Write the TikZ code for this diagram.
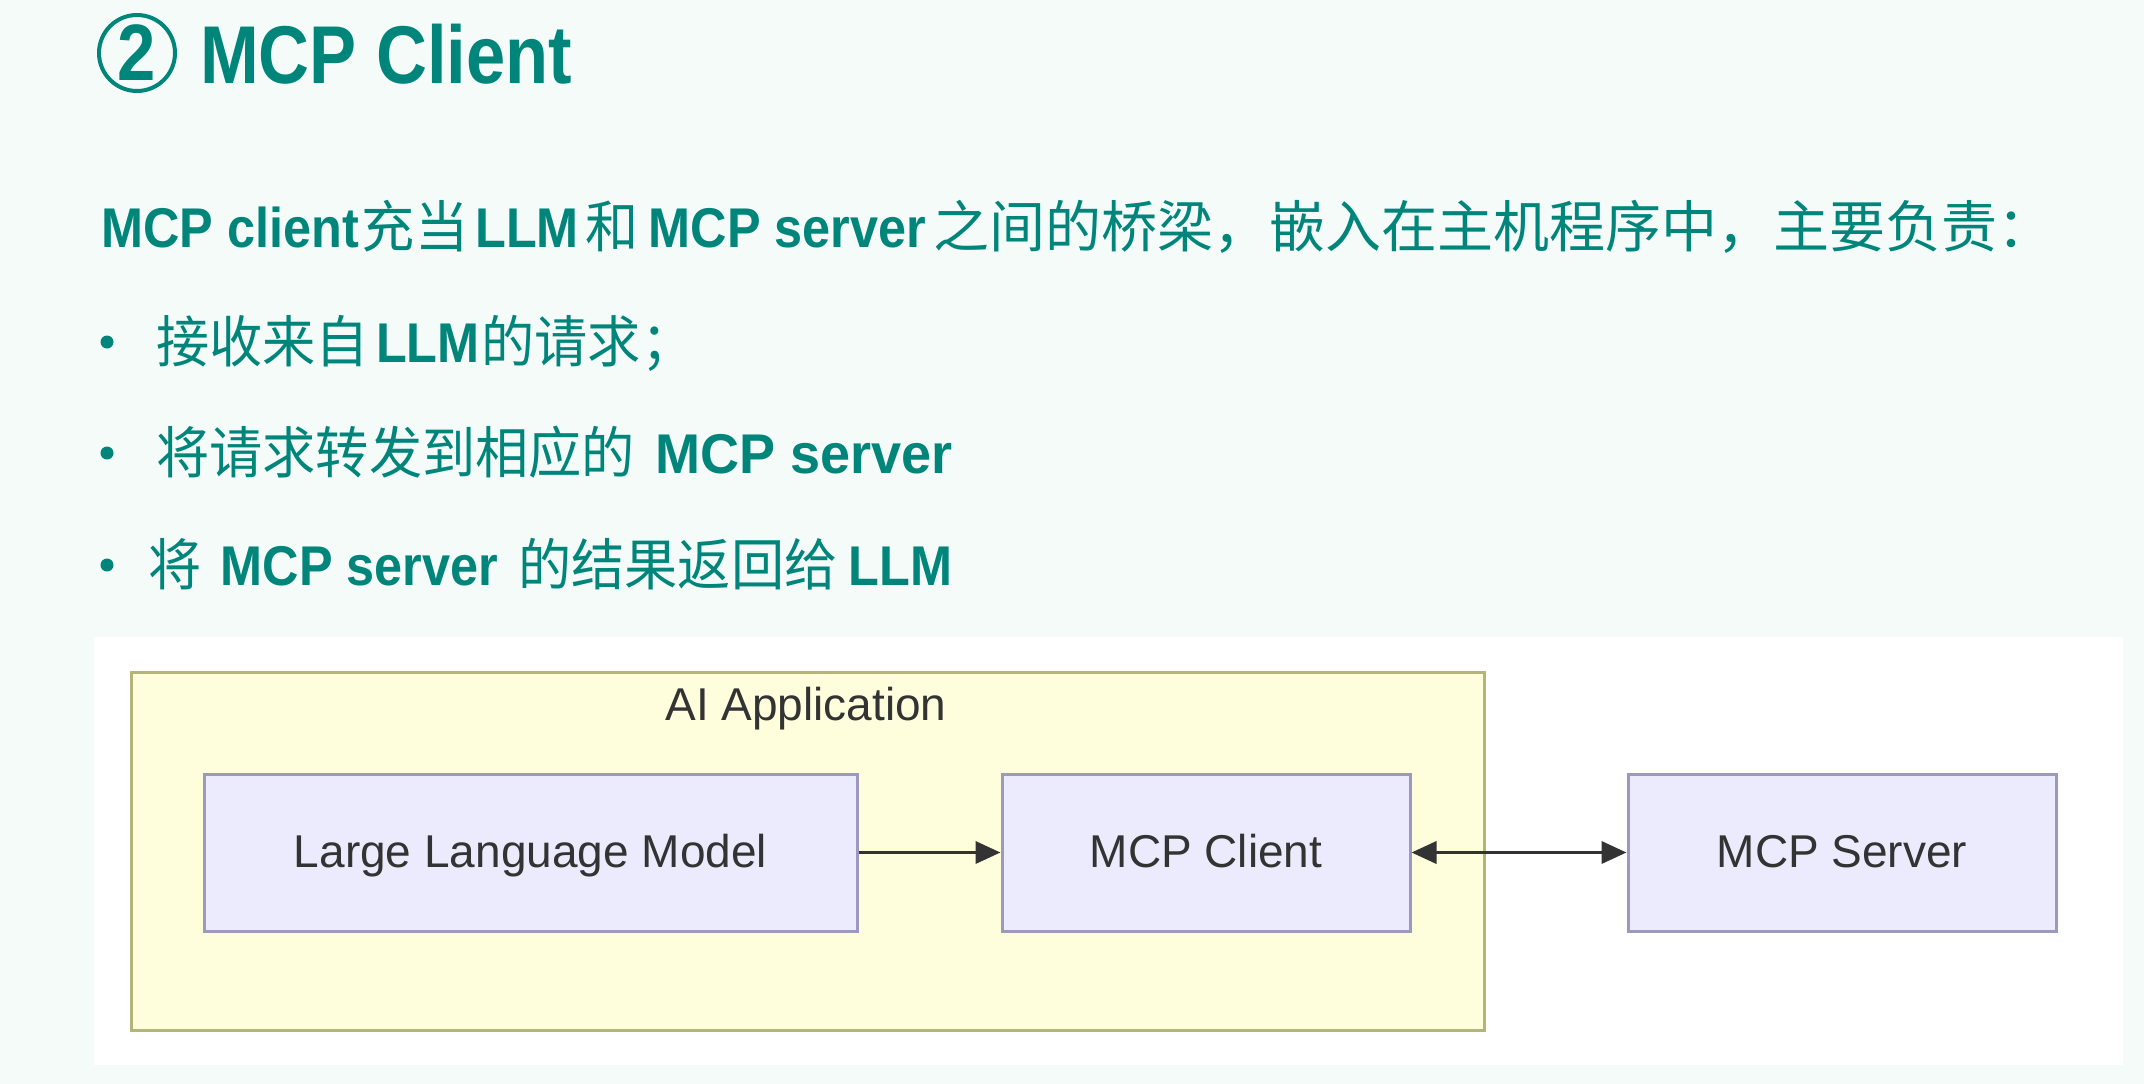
\documentclass[tikz,border=0pt]{standalone}
\usepackage{fontspec}
\usetikzlibrary{arrows.meta}
\setmainfont{Liberation Sans}
\newfontfamily\latinfont{Liberation Sans}[FakeStretch=0.9]
\newfontfamily\latinwide{Liberation Sans}[FakeStretch=0.965]
\newfontfamily\headfont{Liberation Sans}[FakeStretch=0.86]
\newfontfamily\zhfont{Noto Sans CJK SC}
\newfontfamily\zhnarrow{Noto Sans CJK SC}[FakeStretch=0.95]
% Latin and Chinese runs
\newcommand\en[1]{{\latinfont\bfseries #1}}
\newcommand\enw[1]{{\latinwide\bfseries #1}}
\newcommand\zh[1]{{\zhfont #1}}
\newcommand\zhn[1]{{\zhnarrow #1}}
\newcommand\gap[1]{\hspace{#1pt}}

\definecolor{pagebg}{HTML}{F4FBF9}
\definecolor{teal}{HTML}{00857B}
\definecolor{appfill}{HTML}{FEFEDD}
\definecolor{appline}{HTML}{B5B57A}
\definecolor{boxfill}{HTML}{ECEBFD}
\definecolor{boxline}{HTML}{9C99BC}
\definecolor{ink}{HTML}{333333}

\tikzset{
  bodytext/.style={anchor=base west, inner sep=0pt, text=teal,
    font=\fontsize{56}{60}\selectfont},
  bulletdot/.style={fill=teal},
  appbox/.style={draw=appline, fill=appfill, line width=3pt, inner sep=0pt},
  compbox/.style={draw=boxline, fill=boxfill, line width=3pt, inner sep=0pt,
    minimum height=157pt, text height=33pt, text depth=4pt,
    text=ink, font=\fontsize{46}{50}\selectfont},
  flow/.style={draw=ink, line width=3.6pt},
  tip/.tip={Triangle[length=25pt,width=22pt]}
}

\begin{document}
\begin{tikzpicture}[x=1pt,y=-1pt]
  \useasboundingbox (0,0) rectangle (2144,1084);
  \fill[pagebg] (0,0) rectangle (2144,1084);

  % heading
  \node[circle, draw=teal, line width=4pt, minimum size=76pt, inner sep=0pt,
        text=teal, font=\headfont\bfseries\fontsize{80}{84}\selectfont]
        (num) at (137,53) {2};
  \node[anchor=base west, inner sep=0pt, text=teal,
        font=\headfont\bfseries\fontsize{82}{86}\selectfont]
        (title) at (200,83) {MCP Client};

  % introduction and duties
  \node[bodytext] (intro) at (101,247)
    {\en{MCP client}\gap{3}\zhn{充当}\gap{7}\en{LLM}\gap{7}\zhn{和}\gap{10}\en{MCP server}\gap{7}\zh{之间的桥梁，嵌入在主机程序中，主要负责：}};

  \fill[bulletdot] (107,342) circle (6.5);
  \fill[bulletdot] (107,453) circle (6.5);
  \fill[bulletdot] (107,565) circle (6.5);

  \node[bodytext] (duty1) at (156,362)
    {\zhn{接收来自}\gap{7}\en{LLM}\gap{2}\zhn{的请求；}};
  \node[bodytext] (duty2) at (156,473)
    {\zhn{将请求转发到相应的}\gap{20}\enw{MCP server}};
  \node[bodytext] (duty3) at (148.5,585)
    {\zhn{将}\gap{19}\en{MCP server}\gap{20}\zhn{的结果返回给}\gap{11}\en{LLM}};

  % architecture panel
  \fill[white] (94,637) rectangle (2123,1065);

  \node[appbox, minimum width=1353pt, minimum height=358pt] (app) at (807.5,851) {};
  \node[anchor=base, inner sep=0pt, text=ink, font=\fontsize{46}{50}\selectfont]
        (applabel) at (806,720) {AI Application};

  \node[compbox, minimum width=653pt] (llm) at (530.5,852.5) {Large Language Model};
  \node[compbox, minimum width=408pt] (client) at (1206,852.5) {MCP Client};
  \node[compbox, minimum width=428pt] (server) at (1842,852.5) {MCP Server};

  \draw[flow, -tip] (llm.east) -- (client.west);
  \draw[flow, tip-tip] (client.east) -- (server.west);
\end{tikzpicture}
\end{document}
